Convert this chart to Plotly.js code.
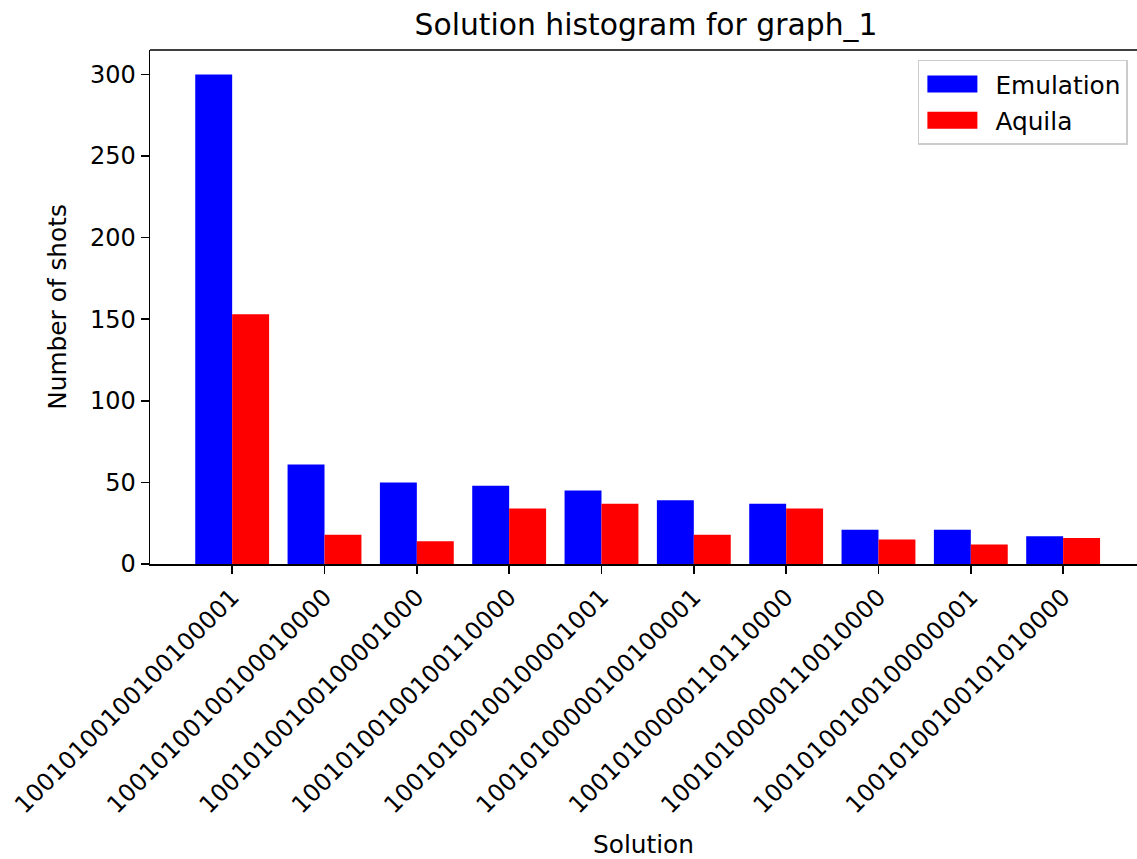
<!DOCTYPE html>
<html>
<head>
<meta charset="utf-8">
<script src="https://cdn.plot.ly/plotly-3.0.1.min.js"></script>
<style>
  html, body { margin: 0; padding: 0; background: #ffffff; }
  #chart { width: 1137px; height: 859px; }
</style>
</head>
<body>
<div id="chart"></div>
<script>
// ---- data ----
const solutions = [
  "10010100100100100001",
  "10010100100100010000",
  "10010100100100001000",
  "10010100100100110000",
  "10010100100100001001",
  "10010100000100100001",
  "10010100000110110000",
  "10010100000110010000",
  "10010100100100000001",
  "10010100100101010000"
];
const emulationShots = [300, 61, 50, 48, 45, 39, 37, 21, 21, 17];
const aquilaShots    = [153, 18, 14, 34, 37, 18, 34, 15, 12, 16];

const seriesNames = ["Emulation", "Aquila"];
const chartTitle = "Solution histogram for graph_1";
const xTitle = "Solution";
const yTitle = "Number of shots";

const FONT = "DejaVu Sans, Liberation Sans, sans-serif";
const FS = 24.8;

const traces = [
  {
    type: "bar",
    name: seriesNames[0],
    x: solutions,
    y: emulationShots,
    marker: { color: "#0000ff", line: { width: 0 } },
    legendgroup: "a"
  },
  {
    type: "bar",
    name: seriesNames[1],
    x: solutions,
    y: aquilaShots,
    marker: { color: "#ff0000", line: { width: 0 } },
    legendgroup: "b"
  }
];

const layout = {
  width: 1137,
  height: 859,
  paper_bgcolor: "#ffffff",
  plot_bgcolor: "#ffffff",
  margin: { l: 150, r: 0, t: 50, b: 295, pad: 0 },
  font: { family: FONT, size: FS, color: "#000000" },
  barmode: "group",
  bargap: 0.2,
  bargroupgap: 0,
  title: {
    text: chartTitle,
    font: { family: FONT, size: 29.8, color: "#000000" },
    x: 0.5025,
    xref: "paper",
    xanchor: "center",
    y: 0.971,
    yref: "container",
    yanchor: "middle"
  },
  xaxis: {
    type: "category",
    range: [-0.89, 9.8],
    tickangle: -45,
    ticks: "outside",
    ticklen: 8,
    tickwidth: 1.5,
    tickcolor: "#000000",
    showline: true,
    linecolor: "#000000",
    linewidth: 1.5,
    showgrid: false,
    zeroline: false,
    automargin: false,
    tickfont: { family: FONT, size: 24, color: "#000000" },
    title: { text: xTitle, font: { family: FONT, size: FS, color: "#000000" }, standoff: 22 }
  },
  yaxis: {
    range: [0, 315],
    tickvals: [0, 50, 100, 150, 200, 250, 300],
    ticks: "outside",
    ticklen: 8,
    tickwidth: 1.5,
    tickcolor: "#000000",
    showline: true,
    linecolor: "#000000",
    linewidth: 1.5,
    showgrid: false,
    zeroline: false,
    automargin: false,
    tickfont: { family: FONT, size: 24, color: "#000000" },
    title: { text: yTitle, font: { family: FONT, size: FS, color: "#000000" }, standoff: 16 }
  },
  shapes: [
    { type: "line", xref: "paper", yref: "paper", x0: 0, x1: 1, y0: 1, y1: 1,
      line: { color: "#000000", width: 1.5 } }
  ],
  showlegend: true,
  legend: {
    x: 0.778,
    y: 0.981,
    xanchor: "left",
    yanchor: "top",
    bgcolor: "#ffffff",
    bordercolor: "#cccccc",
    borderwidth: 1.5,
    font: { family: FONT, size: FS, color: "#000000" },
    traceorder: "grouped",
    tracegroupgap: 1,
    itemwidth: 66
  }
};

Plotly.newPlot("chart", traces, layout, { staticPlot: true, displayModeBar: false }).then(function () {
  // widen the legend swatches to look like matplotlib patches
  document.querySelectorAll(".legendpoints path").forEach(function (p) {
    p.setAttribute("d", "M20,8.5H-30V-8.5H20Z");
  });
});
</script>
</body>
</html>
